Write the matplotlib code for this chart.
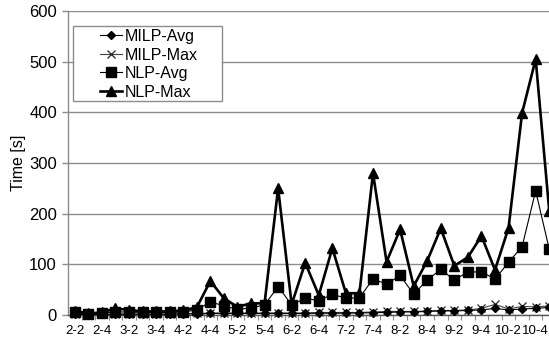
import numpy as np
import matplotlib
matplotlib.use("Agg")
import matplotlib.pyplot as plt
from matplotlib.patches import Rectangle
from matplotlib.ticker import FixedLocator

plt.rcParams['font.family'] = ['Liberation Sans', 'DejaVu Sans']

categories = [
    "2-2", "2-3", "2-4", "2-5", "3-2", "3-3", "3-4", "3-5",
    "4-2", "4-3", "4-4", "4-5", "5-2", "5-3", "5-4", "5-5",
    "6-2", "6-3", "6-4", "6-5", "7-2", "7-3", "7-4", "7-5",
    "8-2", "8-3", "8-4", "8-5", "9-2", "9-3", "9-4", "9-5",
    "10-2", "10-3", "10-4", "10-5",
]

milp_avg = [1, 1, 1, 1.5, 1.5, 1.5, 1.5, 1.5, 2, 2, 3, 3,
            3, 3, 3, 3, 3, 3, 3.5, 3.5, 3.5, 4, 4.5, 5,
            6, 6, 7, 8, 8, 9, 10, 13, 10, 12, 13, 15]
milp_max = [1, 1, 1, 2, 2, 2, 2, 2, 3, 3, 4, 4,
            4, 4, 4, 4, 4, 4, 5, 5, 5, 5, 6, 7,
            7, 7, 8, 9, 9, 10, 13, 21, 12, 17, 16, 18]
nlp_avg = [5, 2, 4, 6, 6, 5, 5, 5, 6, 10, 26, 18,
           11, 14, 20, 56, 20, 33, 28, 41, 33, 34, 71, 61,
           78, 41, 69, 90, 69, 85, 85, 71, 104, 135, 245, 130]
nlp_max = [8, 3, 5, 13, 10, 7, 7, 7, 9, 15, 67, 33,
           16, 23, 23, 250, 21, 103, 39, 132, 43, 43, 280, 105,
           169, 57, 107, 171, 97, 114, 156, 89, 172, 399, 505, 206]

W, H = 549, 339
fig = plt.figure(figsize=(W / 100, H / 100), dpi=100)
# plot area in pixels: left 68, right 556 (runs off the canvas), top 11, bottom 315
ax = fig.add_axes([68 / W, (H - 315) / H, (556 - 68) / W, (315 - 11) / H])

x = np.arange(len(categories))
grid_c = "#8c8c8c"

ax.set_ylim(0, 600)
ax.set_xlim(-0.5, len(categories) - 0.5)
ax.set_yticks(np.arange(0, 601, 100))
ax.yaxis.grid(True, color=grid_c, lw=1.0)
ax.set_axisbelow(True)

for s in ("top", "right"):
    ax.spines[s].set_visible(False)
ax.spines["left"].set_color(grid_c)
ax.spines["bottom"].set_color("#555555")
ax.spines["left"].set_linewidth(1.0)
ax.spines["bottom"].set_linewidth(1.0)

l1, = ax.plot(x, milp_avg, color="black", lw=0.8, marker="D", ms=4.5,
              mfc="black", mec="black", label="MILP-Avg", clip_on=False, zorder=3)
l2, = ax.plot(x, milp_max, color="#444444", lw=0.8, marker="x", ms=6,
              mew=0.9, mec="#222222", label="MILP-Max", clip_on=False, zorder=2)
l3, = ax.plot(x, nlp_avg, color="black", lw=0.8, marker="s", ms=6.5,
              mfc="black", mec="black", label="NLP-Avg", clip_on=False, zorder=4)
l4, = ax.plot(x, nlp_max, color="black", lw=1.9, marker="^", ms=7.5,
              mfc="black", mec="black", label="NLP-Max", clip_on=False, zorder=5)

ax.set_xticks(x[::2])
ax.set_xticklabels(categories[::2], fontsize=9.5)
ax.xaxis.set_minor_locator(FixedLocator(x[:-1] + 0.5))
ax.tick_params(axis="x", which="major", length=0, pad=7.5)
ax.tick_params(axis="x", which="minor", length=3.5, width=0.8,
               color=grid_c, direction="out")
ax.tick_params(axis="y", which="major", length=4, width=1.0, color=grid_c,
               pad=4, labelsize=12)

ax.set_ylabel("Time [s]", fontsize=11.5)
ax.yaxis.set_label_coords((26 - 68) / (556 - 68), 0.5)

leg = fig.legend(handles=[l1, l2, l3, l4], loc="upper left",
                 bbox_to_anchor=(100 / W, 1 - 29 / H), frameon=False,
                 fontsize=11.5, handlelength=1.4, handletextpad=0.15,
                 labelspacing=0.22, borderpad=0.0, borderaxespad=0.0)
fig.patches.append(Rectangle((72.7 / W, 1 - 100.7 / H),
                             (222 - 72.7) / W, (100.7 - 26) / H,
                             transform=fig.transFigure, fill=True,
                             facecolor="white", edgecolor=grid_c, lw=1.0,
                             zorder=0))
leg.set_zorder(10)

fig.savefig("out.png", dpi=100)
